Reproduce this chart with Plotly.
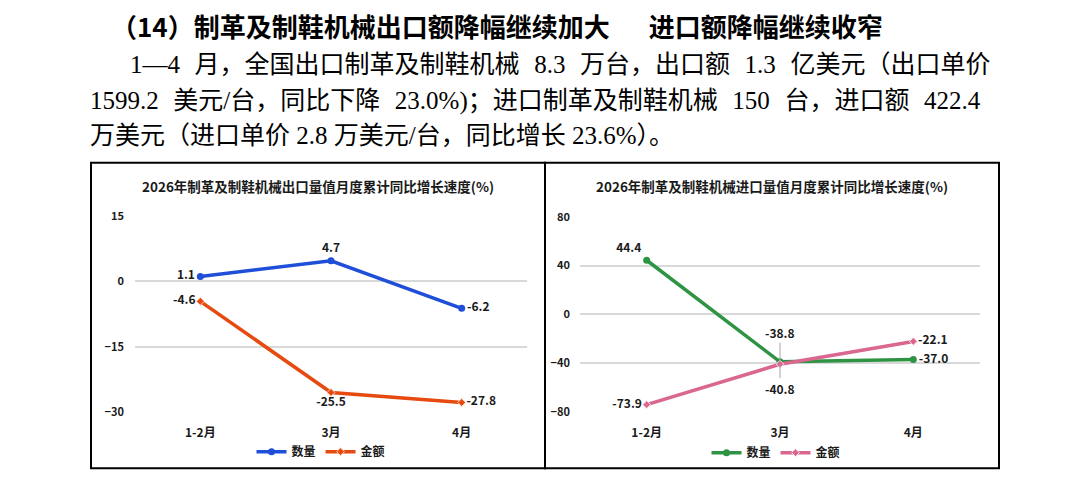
import plotly.graph_objects as go

# ===== データ =====
months = ["1-2月", "3月", "4月"]
export_qty = [1.1, 4.7, -6.2]      # 出口 数量
export_amt = [-4.6, -25.5, -27.8]  # 出口 金额
import_qty = [44.4, -38.8, -37.0]  # 进口 数量
import_amt = [-73.9, -40.8, -22.1] # 进口 金额

left_ticks = [15, 0, -15, -30]
right_ticks = [80, 40, 0, -40, -80]

title_left = "2026年制革及制鞋机械出口量值月度累计同比增长速度(%)"
title_right = "2026年制革及制鞋机械进口量值月度累计同比增长速度(%)"
heading = "（14）制革及制鞋机械出口额降幅继续加大　\u2002进口额降幅继续收窄"
para = [
    "1—4 月，全国出口制革及制鞋机械 8.3 万台，出口额 1.3 亿美元（出口单价",
    "1599.2 美元/台，同比下降 23.0%)；进口制革及制鞋机械 150 台，进口额 422.4",
    "万美元（进口单价 2.8 万美元/台，同比增长 23.6%）。",
]

W, H = 1086, 479
CJK = "Noto Sans CJK SC"
SERIF = "Liberation Serif, Noto Sans CJK SC"

BLUE = "#1F4FD8"
ORANGE = "#E64A10"
GREEN = "#2E9444"
PINK = "#D9678F"


def px(x):
    return x / W


def py(y):
    return 1 - y / H


def lbl(vals):
    return [f"{v:.1f}" for v in vals]


lab_font = dict(family=CJK, size=12, color="#1a1a1a", weight="bold")

fig = go.Figure()

# ===== 左：出口 =====
fig.add_trace(go.Scatter(
    x=months, y=export_qty, name="数量", mode="lines+markers+text",
    line=dict(color=BLUE, width=3.5),
    marker=dict(symbol="circle", size=7, color=BLUE),
    text=lbl(export_qty),
    textposition=["middle left", "top center", "middle right"],
    textfont=lab_font, legend="legend",
    xaxis="x", yaxis="y",
))
fig.add_trace(go.Scatter(
    x=months, y=export_amt, name="金额", mode="lines+markers+text",
    line=dict(color=ORANGE, width=3.5),
    marker=dict(symbol="diamond", size=6, color=ORANGE, line=dict(color="#FFD0B8", width=1)),
    text=lbl(export_amt),
    textposition=["middle left", "bottom center", "middle right"],
    textfont=lab_font, legend="legend",
    xaxis="x", yaxis="y",
))

# ===== 右：进口 =====
fig.add_trace(go.Scatter(
    x=months, y=import_qty, name="数量", mode="lines+markers+text",
    line=dict(color=GREEN, width=3.5),
    marker=dict(symbol="circle", size=7, color=GREEN),
    text=[lbl(import_qty)[0], "", lbl(import_qty)[2]],
    textposition=["top left", "top center", "middle right"],
    textfont=lab_font, legend="legend2",
    xaxis="x2", yaxis="y2",
))
fig.add_trace(go.Scatter(
    x=months, y=import_amt, name="金额", mode="lines+markers+text",
    line=dict(color=PINK, width=3.5),
    marker=dict(symbol="diamond", size=6, color=PINK, line=dict(color="#FFE0EA", width=1)),
    text=[lbl(import_amt)[0], "", lbl(import_amt)[2]],
    textposition=["middle left", "bottom center", "middle right"],
    textfont=lab_font, legend="legend2",
    xaxis="x2", yaxis="y2",
))

# 3月のラベル（引き出し線つき）
fig.add_annotation(x=months[1], y=import_qty[1], xref="x2", yref="y2",
                   text=lbl(import_qty)[1], showarrow=True, arrowhead=0,
                   arrowwidth=1, arrowcolor="#A6A6A6", ax=0, ay=-29, standoff=0,
                   font=lab_font)
fig.add_annotation(x=months[1], y=import_amt[1], xref="x2", yref="y2",
                   text=lbl(import_amt)[1], showarrow=True, arrowhead=0,
                   arrowwidth=1, arrowcolor="#A6A6A6", ax=0, ay=24, standoff=0,
                   font=lab_font)

# ===== 軸 =====
xcommon = dict(type="category", range=[-0.5, 2.5], showgrid=False, showline=False,
               zeroline=False, ticks="", ticklabelstandoff=12,
               tickfont=dict(family=CJK, size=12, color="#1a1a1a", weight="bold"))
ycommon = dict(showgrid=True, gridcolor="#D9D9D9", gridwidth=1.5, zeroline=False,
               showline=False, ticks="",
               tickfont=dict(family=CJK, size=11, color="#1a1a1a", weight="bold"))

fig.update_layout(
    width=W, height=H,
    margin=dict(l=0, r=0, t=0, b=0),
    paper_bgcolor="white", plot_bgcolor="white",
    xaxis=dict(xcommon, domain=[px(135), px(527)], anchor="y"),
    yaxis=dict(ycommon, domain=[py(417), py(214)], range=[-30, 15],
               tickvals=left_ticks, ticklabelstandoff=10, anchor="x"),
    xaxis2=dict(xcommon, domain=[px(580), px(980)], anchor="y2"),
    yaxis2=dict(ycommon, domain=[py(417), py(215)], range=[-80, 80],
                tickvals=right_ticks, ticklabelstandoff=9, anchor="x2"),
    legend=dict(orientation="h", x=px(321), y=py(458), xanchor="center", yanchor="middle",
                font=dict(family=CJK, size=12, color="#1a1a1a", weight="bold"),
                bgcolor="rgba(0,0,0,0)", itemwidth=30),
    legend2=dict(orientation="h", x=px(776), y=py(459), xanchor="center", yanchor="middle",
                 font=dict(family=CJK, size=12, color="#1a1a1a", weight="bold"),
                 bgcolor="rgba(0,0,0,0)", itemwidth=30),
    showlegend=True,
)

# 枠
for x0, x1 in [(91, 545), (545, 999)]:
    fig.add_shape(type="rect", xref="paper", yref="paper",
                  x0=px(x0), x1=px(x1), y0=py(475), y1=py(159),
                  line=dict(color="black", width=2), layer="below")

# タイトル
for txt, x in [(title_left, 318), (title_right, 772)]:
    fig.add_annotation(x=px(x), y=py(183), xref="paper", yref="paper", showarrow=False,
                       xanchor="center", yanchor="middle", text=txt,
                       font=dict(family=CJK, size=13.5, color="#1a1a1a", weight="bold"))

# 本文（1・2行目は両端揃えっぽく空白を広めに）
fig.add_annotation(x=px(109), y=py(17), xref="paper", yref="paper", showarrow=False,
                   xanchor="left", yanchor="middle", text=heading,
                   font=dict(family=CJK, size=26, color="black", weight="bold"))
gaps = ["\u2002\u200a", "\u2002\u200a", " "]
for txt, gap, x, y in zip(para, gaps, [128, 88, 88], [57, 95, 131]):
    fig.add_annotation(x=px(x), y=py(y), xref="paper", yref="paper", showarrow=False,
                       xanchor="left", yanchor="middle", text=txt.replace(" ", gap),
                       font=dict(family=SERIF, size=25, color="black"))

fig.write_html("out.html", config={"displayModeBar": False},
               post_script="document.body.style.margin='0';")
